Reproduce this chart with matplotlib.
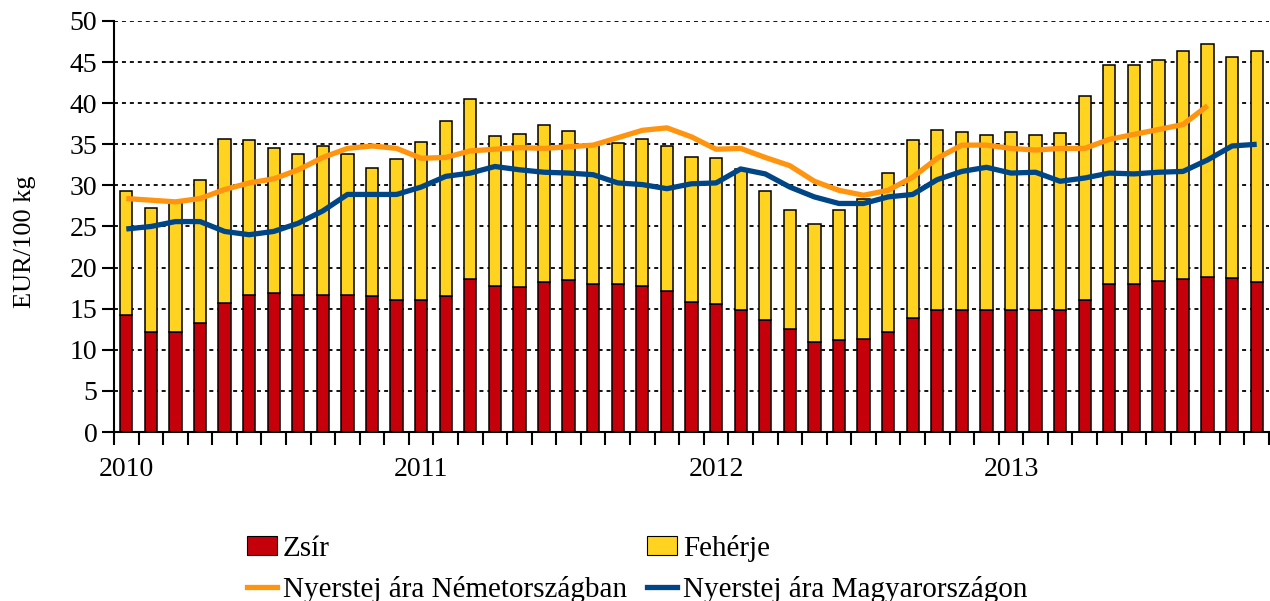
import numpy as np
import matplotlib.pyplot as plt
from matplotlib.patches import Patch
from matplotlib.lines import Line2D

# ==========================================================
# Data (monthly, Jan 2010 - Nov 2013)
# ==========================================================

years = ["2010", "2011", "2012", "2013"]

zsir = [
    14.2, 12.2, 12.2, 13.2, 15.7, 16.7, 16.9, 16.7, 16.7, 16.7, 16.6, 16.0,
    16.0, 16.5, 18.6, 17.8, 17.7, 18.3, 18.5, 18.0, 18.0, 17.8, 17.2, 15.8,
    15.6, 14.9, 13.6, 12.5, 10.9, 11.2, 11.3, 12.2, 13.9, 14.9, 14.8, 14.8,
    14.9, 14.8, 14.9, 16.0, 18.0, 18.0, 18.4, 18.6, 18.9, 18.7, 18.3,
]

feherje = [
    15.1, 15.1, 15.8, 17.4, 19.9, 18.8, 17.7, 17.1, 18.1, 17.1, 15.5, 17.2,
    19.3, 21.3, 21.9, 18.2, 18.5, 19.0, 18.1, 17.0, 17.2, 17.8, 17.6, 17.7,
    17.7, 17.1, 15.7, 14.5, 14.4, 15.8, 17.0, 19.3, 21.6, 21.8, 21.7, 21.3,
    21.6, 21.3, 21.5, 24.9, 26.7, 26.6, 26.8, 27.7, 28.3, 26.9, 28.0,
]

nemet = [
    28.4, 28.2, 28.0, 28.4, 29.5, 30.3, 30.8, 31.9, 33.4, 34.5, 34.8, 34.5,
    33.3, 33.4, 34.2, 34.4, 34.6, 34.5, 34.7, 34.9, 35.8, 36.7, 37.0, 35.9,
    34.4, 34.5, 33.4, 32.4, 30.5, 29.4, 28.8, 29.4, 31.0, 33.3, 34.9, 34.9,
    34.5, 34.3, 34.5, 34.5, 35.6, 36.2, 36.8, 37.4, 39.7,
]

magyar = [
    24.7, 25.0, 25.6, 25.6, 24.4, 24.0, 24.4, 25.4, 26.9, 28.9, 28.9, 28.9,
    29.8, 31.1, 31.5, 32.3, 31.9, 31.6, 31.5, 31.3, 30.3, 30.1, 29.6, 30.2,
    30.3, 32.0, 31.4, 29.8, 28.6, 27.8, 27.8, 28.6, 28.9, 30.7, 31.7, 32.2,
    31.5, 31.6, 30.5, 30.9, 31.5, 31.4, 31.6, 31.7, 33.1, 34.8, 35.0,
]

# ==========================================================
# Style
# ==========================================================

RED = "#c5000b"
YELLOW = "#ffd320"
ORANGE = "#ff950e"
BLUE = "#004586"

plt.rcParams["font.family"] = ["Liberation Serif", "DejaVu Serif"]
FS = 20

fig = plt.figure(figsize=(12.7, 6.01), dpi=100)
ax = fig.add_axes([114 / 1270, 1 - 432 / 601, 1155 / 1270, 411 / 601])

x = np.arange(len(zsir))

ax.bar(x, zsir, 0.5, color=RED, edgecolor="black", linewidth=1.1, zorder=2)
ax.bar(x, feherje, 0.5, bottom=zsir, color=YELLOW, edgecolor="black",
       linewidth=1.1, zorder=2)

ax.plot(np.arange(len(nemet)), nemet, color=ORANGE, linewidth=3.8,
        solid_joinstyle="round", solid_capstyle="butt", zorder=3)
ax.plot(np.arange(len(magyar)), magyar, color=BLUE, linewidth=3.8,
        solid_joinstyle="round", solid_capstyle="butt", zorder=3)

# ==========================================================
# Axes
# ==========================================================

ax.set_xlim(-0.5, len(zsir) - 0.5)
ax.set_ylim(0, 50)

ax.set_yticks(np.arange(0, 51, 5))
for v in np.arange(5, 51, 5):
    ax.axhline(v, color="black", linewidth=1.3, linestyle=(0, (2.2, 2.2)),
               zorder=1)

ax.set_xticks([0, 12, 24, 36])
ax.set_xticklabels(years)
ax.set_xticks(np.arange(-0.5, len(zsir), 1), minor=True)

ax.tick_params(axis="x", which="major", length=0, pad=18, labelsize=FS)
ax.tick_params(axis="x", which="minor", length=9, width=1.5,
               direction="out")
ax.tick_params(axis="y", length=9, width=1.5, direction="out", pad=3,
               labelsize=FS)

for side in ["top", "right"]:
    ax.spines[side].set_visible(False)
for side in ["left", "bottom"]:
    ax.spines[side].set_linewidth(1.5)

fig.text(25 / 1270, 1 - 242 / 601, "EUR/100 kg", rotation=90,
         ha="center", va="center", fontsize=19)

# ==========================================================
# Legend
# ==========================================================

handles = [
    Patch(facecolor=RED, edgecolor="black", linewidth=0.8),
    Line2D([], [], color=ORANGE, linewidth=3.8),
    Patch(facecolor=YELLOW, edgecolor="black", linewidth=0.8),
    Line2D([], [], color=BLUE, linewidth=3.8),
]
labels = [
    "Zsír",
    "Nyerstej ára Németországban",
    "Fehérje",
    "Nyerstej ára Magyarországon",
]

fig.legend(
    handles, labels,
    ncol=2,
    loc="upper left",
    bbox_to_anchor=(247 / 1270, 1 - 535 / 601),
    frameon=False,
    fontsize=21,
    borderpad=0,
    borderaxespad=0,
    handlelength=1.03,
    handleheight=0.6,
    handletextpad=0.2,
    columnspacing=0.7,
    labelspacing=0.47,
)

fig.savefig("out.png", dpi=100)
